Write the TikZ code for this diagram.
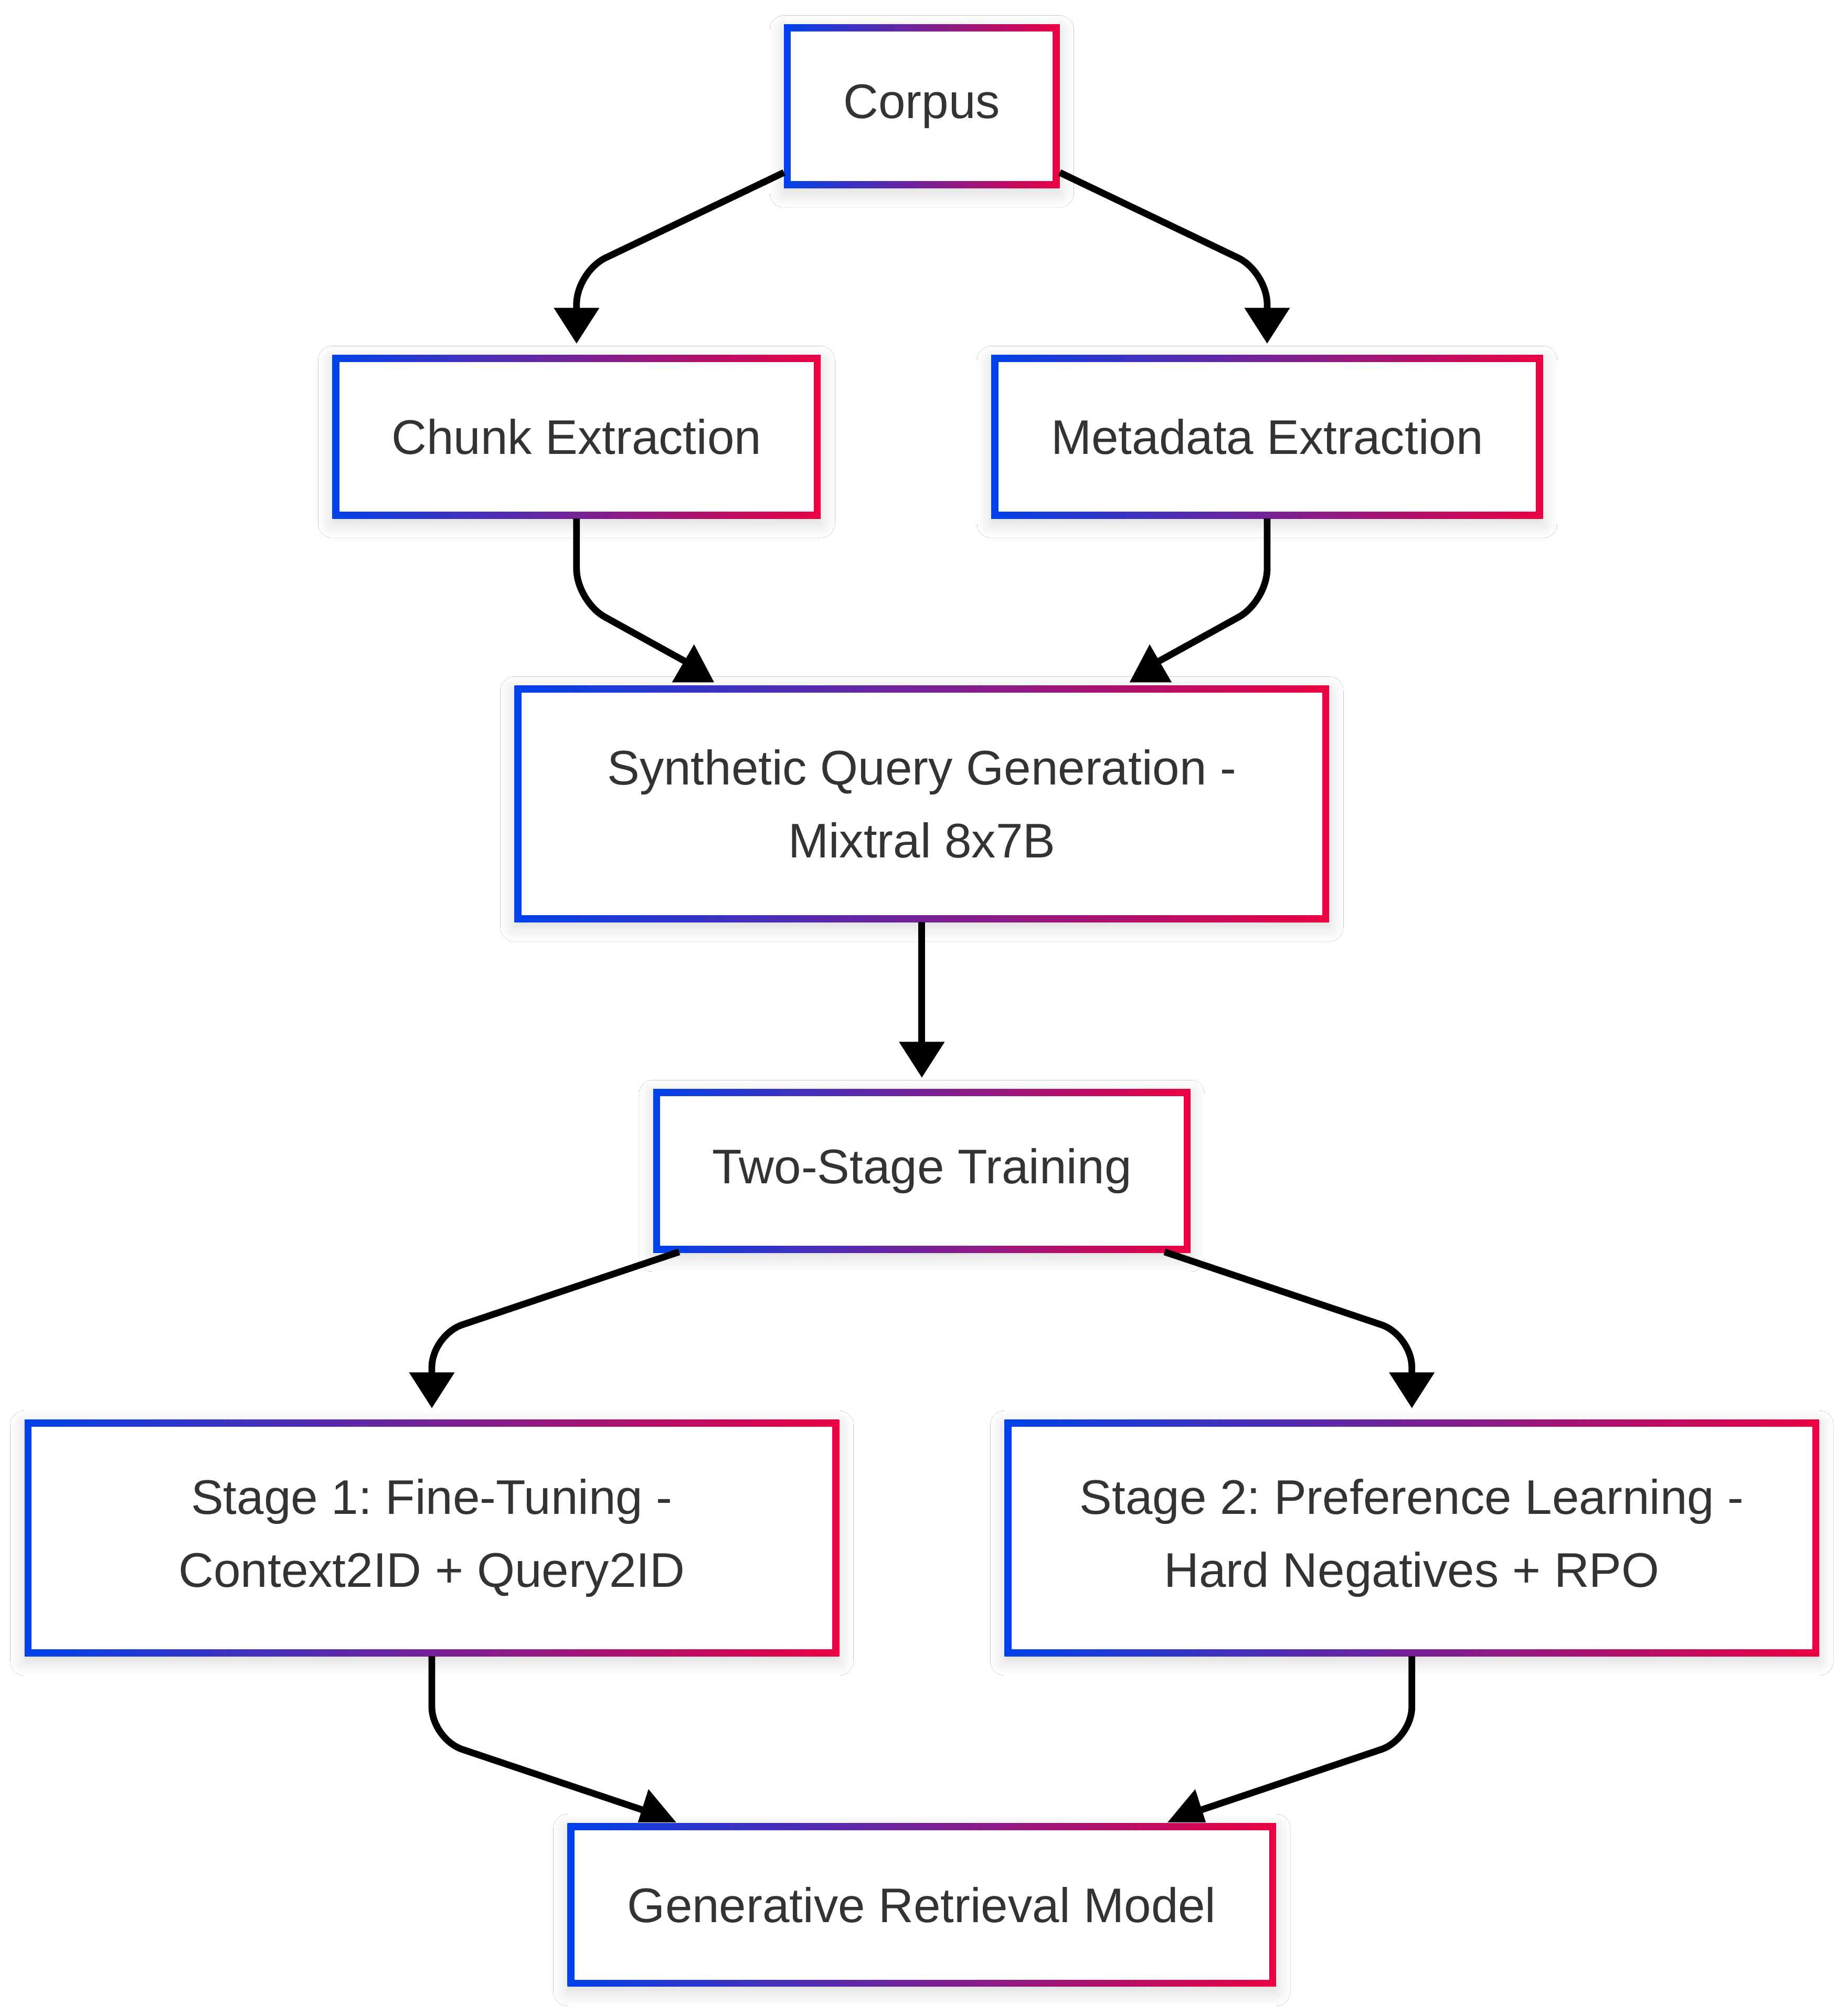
\documentclass[tikz,border=0pt]{standalone}
\usepackage{fontspec}
\setmainfont{Liberation Sans}
\usetikzlibrary{arrows.meta,calc,shadows.blur}
\definecolor{gblue}{HTML}{0042EB}
\definecolor{gred}{HTML}{EB0042}
\definecolor{txt}{HTML}{333333}
\frenchspacing
\tikzset{
  gbox/.style 2 args={rectangle, inner sep=0pt, outer sep=0pt,
    minimum width=#1, minimum height=#2, text=txt, align=center,
    font=\fontsize{37.6}{56.4}\selectfont\frenchspacing, fill=white,
    blur shadow={shadow xshift=0pt, shadow yshift=-4pt, shadow blur radius=11pt, shadow blur steps=12, shadow opacity=15},
    path picture={
      \shade[left color=gblue, right color=gred]
        (path picture bounding box.south west) rectangle (path picture bounding box.north east);
      \fill[white]
        ([shift={(5.4pt,5.4pt)}]path picture bounding box.south west) rectangle
        ([shift={(-5.4pt,-5.4pt)}]path picture bounding box.north east);
    }},
  link/.style={line width=5.2pt, draw=black, rounded corners=25pt},
  arr/.style={-{Triangle[length=27.8pt,width=34pt]}},
  tri/.style={fill=black}
}
\begin{document}
\begin{tikzpicture}[x=1pt,y=1pt]
\useasboundingbox (0,0) rectangle (1430,-1559.5);
\fill[white] (0,0) rectangle (1430,-1559.5);

\node[gbox={213.4pt}{126.5pt}] (corpus) at (713.5,-82.25) {Corpus};
\node[gbox={378pt}{126.5pt}] (chunk) at (446.25,-338.05) {Chunk Extraction};
\node[gbox={427pt}{126.5pt}] (meta) at (980.75,-338.05) {Metadata Extraction};
\node[gbox={630.5pt}{183pt}] (synth) at (713.5,-622.1) {Synthetic Query Generation -\\Mixtral 8x7B};
\node[gbox={415.8pt}{126.5pt}] (two) at (713.5,-906.15) {Two-Stage Training};
\node[gbox={630.5pt}{183pt}] (stage1) at (334.25,-1190.2) {Stage 1: Fine-Tuning -\\Context2ID + Query2ID};
\node[gbox={630.5pt}{183pt}] (stage2) at (1092.75,-1190.2) {Stage 2: Preference Learning -\\Hard Negatives + RPO};
\node[gbox={548.4pt}{126.5pt}] (grm) at (713.5,-1474.25) {Generative Retrieval Model};

% Corpus -> Chunk / Metadata
\draw[link,arr] ([yshift=12pt]corpus.south west) -- ($(chunk.north)+(0,64.5)$) -- ($(chunk.north)+(0,8.8)$);
\draw[link,arr] ([yshift=12pt]corpus.south east) -- ($(meta.north)+(0,64.5)$) -- ($(meta.north)+(0,8.8)$);

% Chunk / Metadata -> Synth
\draw[link] (chunk.south) -- ($(chunk.south)+(0,-64.1)$) -- ($(synth.north)+(-181,17.5)$);
\fill[tri] ($(synth.north)+(-193.4,2.5)$) -- ($(synth.north)+(-160.8,2.5)$) -- ($(synth.north)+(-176.3,31.9)$) -- cycle;
\draw[link] (meta.south) -- ($(meta.south)+(0,-64.1)$) -- ($(synth.north)+(181,17.5)$);
\fill[tri] ($(synth.north)+(160.8,2.5)$) -- ($(synth.north)+(193.4,2.5)$) -- ($(synth.north)+(176.3,31.9)$) -- cycle;

% Synth -> Two-Stage
\draw[link,arr] (synth.south) -- ($(two.north)+(0,8.8)$);

% Two-Stage -> Stage 1 / Stage 2
\draw[link,arr] ($(two.south west)+(20,0.5)$) -- ($(stage1.north)+(0,65.5)$) -- ($(stage1.north)+(0,8.8)$);
\draw[link,arr] ($(two.south east)+(-20,0.5)$) -- ($(stage2.north)+(0,65.5)$) -- ($(stage2.north)+(0,8.8)$);

% Stage 1 / Stage 2 -> GRM
\draw[link] (stage1.south) -- ($(stage1.south)+(0,-64.3)$) -- ($(grm.north)+(-211,8.5)$);
\fill[tri] ($(grm.north)+(-219.8,0.6)$) -- ($(grm.north)+(-190.2,0.6)$) -- ($(grm.north)+(-211.6,26.3)$) -- cycle;
\draw[link] (stage2.south) -- ($(stage2.south)+(0,-64.3)$) -- ($(grm.north)+(211,8.5)$);
\fill[tri] ($(grm.north)+(190.2,0.6)$) -- ($(grm.north)+(219.8,0.6)$) -- ($(grm.north)+(211.6,26.3)$) -- cycle;
\end{tikzpicture}
\end{document}
